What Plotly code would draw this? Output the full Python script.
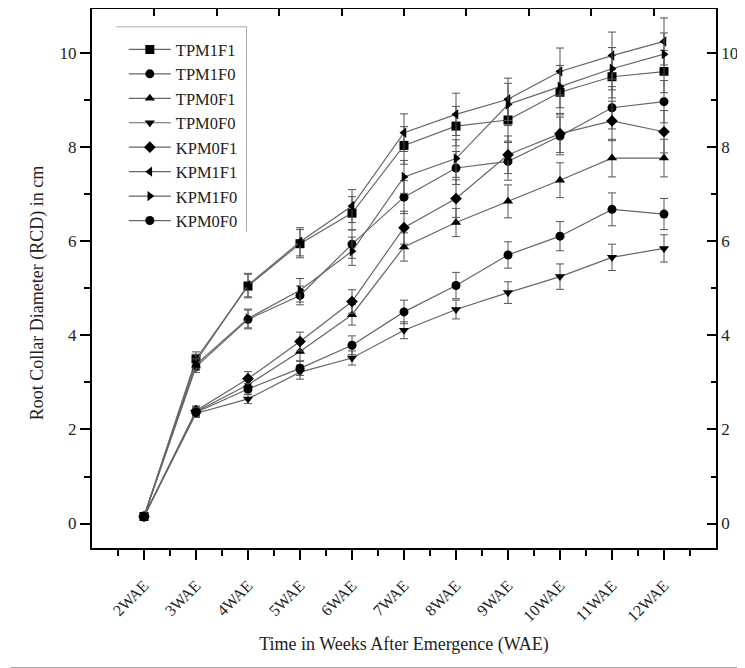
import plotly.graph_objects as go

weeks = [2, 3, 4, 5, 6, 7, 8, 9, 10, 11, 12]
week_labels = [f"{w}WAE" for w in weeks]

names = ["TPM1F1", "TPM1F0", "TPM0F1", "TPM0F0", "KPM0F1", "KPM1F1", "KPM1F0", "KPM0F0"]
symbols = ["square", "circle", "triangle-up", "triangle-down", "diamond",
           "triangle-left", "triangle-right", "circle"]

tpm1f1 = [0.15, 3.50, 5.05, 5.95, 6.60, 8.04, 8.45, 8.58, 9.17, 9.50, 9.61]
tpm1f0 = [0.15, 3.33, 4.34, 4.85, 5.94, 6.94, 7.56, 7.70, 8.24, 8.84, 8.97]
tpm0f1 = [0.15, 2.38, 2.95, 3.66, 4.44, 5.88, 6.40, 6.85, 7.30, 7.77, 7.77]
tpm0f0 = [0.15, 2.34, 2.65, 3.22, 3.52, 4.11, 4.55, 4.91, 5.25, 5.66, 5.85]
kpm0f1 = [0.15, 2.40, 3.08, 3.87, 4.72, 6.29, 6.91, 7.84, 8.29, 8.56, 8.33]
kpm1f1 = [0.15, 3.45, 5.07, 5.99, 6.75, 8.31, 8.70, 9.02, 9.61, 9.95, 10.25]
kpm1f0 = [0.15, 3.38, 4.36, 4.96, 5.79, 7.37, 7.76, 8.91, 9.29, 9.67, 9.98]
kpm0f0 = [0.15, 2.36, 2.86, 3.30, 3.79, 4.50, 5.06, 5.71, 6.11, 6.68, 6.58]

err_tpm1f1 = [0.03, 0.15, 0.25, 0.30, 0.35, 0.40, 0.42, 0.45, 0.45, 0.45, 0.45]
err_tpm1f0 = [0.03, 0.12, 0.20, 0.20, 0.30, 0.35, 0.35, 0.40, 0.40, 0.45, 0.45]
err_tpm0f1 = [0.03, 0.10, 0.15, 0.20, 0.22, 0.30, 0.30, 0.35, 0.37, 0.40, 0.40]
err_tpm0f0 = [0.03, 0.08, 0.10, 0.15, 0.15, 0.18, 0.20, 0.23, 0.27, 0.28, 0.29]
err_kpm0f1 = [0.03, 0.10, 0.15, 0.20, 0.25, 0.35, 0.40, 0.40, 0.40, 0.42, 0.45]
err_kpm1f1 = [0.03, 0.15, 0.25, 0.30, 0.35, 0.40, 0.45, 0.45, 0.50, 0.50, 0.50]
err_kpm1f0 = [0.03, 0.12, 0.20, 0.25, 0.30, 0.35, 0.40, 0.45, 0.45, 0.45, 0.45]
err_kpm0f0 = [0.03, 0.10, 0.12, 0.15, 0.20, 0.25, 0.28, 0.28, 0.31, 0.35, 0.33]

series = [tpm1f1, tpm1f0, tpm0f1, tpm0f0, kpm0f1, kpm1f1, kpm1f0, kpm0f0]
errors = [err_tpm1f1, err_tpm1f0, err_tpm0f1, err_tpm0f0,
          err_kpm0f1, err_kpm1f1, err_kpm1f0, err_kpm0f0]

FONT = "Liberation Serif"

fig = go.Figure()
for name, sym, vals, err in zip(names, symbols, series, errors):
    fig.add_trace(go.Scatter(
        x=weeks, y=vals, name=name, mode="lines+markers",
        line=dict(color="#666666", width=1.2),
        marker=dict(symbol=sym, size=9, color="black"),
        error_y=dict(type="data", array=err, visible=True,
                     color="#555555", thickness=1, width=4),
    ))

# empty trace so the top / right frame axes get drawn
fig.add_trace(go.Scatter(x=[], y=[], xaxis="x2", yaxis="y2", showlegend=False))

# page body has an 8px margin, so the figure is made 8px smaller and shifted back
fig.update_layout(
    width=737, height=660,
    margin=dict(l=84, r=29, t=1, b=120),
    paper_bgcolor="white", plot_bgcolor="white",
    font=dict(family=FONT, size=17, color="#222222"),
    showlegend=True,
    legend=dict(x=0.051, y=0.957, xanchor="left", yanchor="top",
                bgcolor="rgba(0,0,0,0)", borderwidth=0,
                font=dict(size=16.5), itemwidth=42, tracegroupgap=0),
    xaxis=dict(range=[1, 13], tickmode="array", tickvals=weeks, ticktext=week_labels,
               tickangle=-45, ticks="outside", ticklen=10, tickwidth=1.5, tickcolor="black",
               ticklabelstandoff=10,
               showline=True, linecolor="black", linewidth=2, showgrid=False, zeroline=False,
               minor=dict(tickmode="array", tickvals=[w + 0.5 for w in [1] + weeks],
                          ticks="outside", ticklen=6, tickwidth=1.5, tickcolor="black"),
               title=dict(text="Time in Weeks After Emergence (WAE)", font=dict(size=18),
                          standoff=14),
               tickfont=dict(size=16)),
    xaxis2=dict(overlaying="x", side="top", range=[0, 10], dtick=1,
                ticks="inside", ticklen=7, tickwidth=1.5, tickcolor="black",
                showticklabels=False, showline=True, linecolor="black", linewidth=1.5,
                showgrid=False, zeroline=False),
    yaxis=dict(range=[-0.52, 10.94], dtick=2, ticks="outside", ticklen=10, tickwidth=1.5,
               tickcolor="black", showline=True, linecolor="black", linewidth=2,
               showgrid=False, zeroline=False,
               minor=dict(dtick=1, ticks="outside", ticklen=6, tickwidth=1.5, tickcolor="black")),
    yaxis2=dict(overlaying="y", side="right", matches="y", dtick=2, ticks="inside",
                ticklen=9, tickwidth=1.5, tickcolor="black", showline=True,
                linecolor="black", linewidth=1.5, showgrid=False, zeroline=False,
                minor=dict(dtick=1, ticks="inside", ticklen=5, tickwidth=1.5, tickcolor="black")),
)

# y title placed a little below the plot centre, as in the original
fig.add_annotation(text="Root Collar Diameter (RCD) in cm", textangle=-90,
                   xref="paper", yref="paper", x=-0.087, y=0.472,
                   xanchor="center", yanchor="middle", showarrow=False,
                   font=dict(size=18, family=FONT, color="#222222"))

# partial legend frame (top and right edges), as in the original
fig.add_shape(type="line", xref="paper", yref="paper", x0=0.039, x1=0.2476, y0=0.967, y1=0.967,
              line=dict(color="#aaaaaa", width=1))
fig.add_shape(type="line", xref="paper", yref="paper", x0=0.2476, x1=0.2476, y0=0.967, y1=0.5866,
              line=dict(color="#aaaaaa", width=1))
# thin border along the right and bottom edges of the picture
fig.add_shape(type="line", xref="paper", yref="paper", x0=1.045, x1=1.045, y0=-0.222, y1=1.0,
              line=dict(color="#999999", width=1))
fig.add_shape(type="line", xref="paper", yref="paper", x0=-0.13, x1=1.045, y0=-0.222, y1=-0.222,
              line=dict(color="#999999", width=1))

fig.write_html("out.html")
